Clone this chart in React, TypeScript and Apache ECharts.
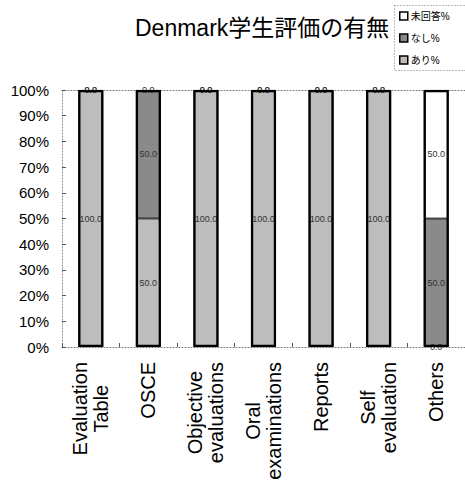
import React, { useEffect, useRef } from "react";
import * as echarts from "echarts";

const categories = [
  "Evaluation\nTable",
  "OSCE",
  "Objective\nevaluations",
  "Oral\nexaminations",
  "Reports",
  "Self\nevaluation",
  "Others",
];
const ariValues = [100, 50, 100, 100, 100, 100, 0];
const nashiValues = [0, 50, 0, 0, 0, 0, 50];
const mikaitoValues = [0, 0, 0, 0, 0, 0, 50];
const yTicks = [0, 10, 20, 30, 40, 50, 60, 70, 80, 90, 100];

const FONT = "'Liberation Sans', 'Noto Sans CJK JP', sans-serif";

export default function App() {
  const ref = useRef<HTMLDivElement>(null);
  useEffect(() => {
    if (!ref.current) return;
    const chart = echarts.init(ref.current, null, { renderer: "svg" });
    const labelCfg = {
      show: true,
      position: "inside" as const,
      fontSize: 9,
      color: "#333",
      fontFamily: FONT,
      formatter: (p: any) => Number(p.value).toFixed(1),
    };
    const mkSeries = (name: string, data: number[], color: string) => ({
      name,
      type: "bar",
      stack: "s",
      data: data.map((v) => (v === 0 ? { value: v, itemStyle: { borderWidth: 0 } } : v)),
      barWidth: 25,
      barGap: "-100%",
      itemStyle: { color, borderColor: "#000", borderWidth: 0.8 },
      label: labelCfg,
    });
    const totals = ariValues.map((v, i) => v + nashiValues[i] + mikaitoValues[i]);
    chart.setOption({
      animation: false,
      textStyle: { fontFamily: FONT },
      title: {
        text: "Denmark学生評価の有無",
        left: 130,
        top: 11,
        textStyle: { fontSize: 23, fontWeight: "normal", color: "#000", fontFamily: FONT },
      },
      legend: {
        orient: "vertical",
        left: 394,
        top: 6,
        itemGap: 12,
        itemWidth: 8,
        itemHeight: 8,
        icon: "rect",
        data: ["未回答%", "なし%", "あり%"],
        textStyle: { fontSize: 10, color: "#000", fontFamily: FONT, padding: [0, 0, 0, -2] },
        itemStyle: { borderColor: "#000", borderWidth: 1.5 },
      },
      graphic: [
        {
          type: "rect",
          left: 392,
          top: 3,
          shape: { width: 72, height: 65 },
          style: { fill: "none", stroke: "#777", lineWidth: 1, lineDash: [1, 2] },
        },
      ],
      grid: { left: 62, top: 90, width: 407, height: 257 },
      xAxis: [
        {
          type: "category",
          data: categories,
          axisLine: { show: true, lineStyle: { color: "#777", type: [1, 2], width: 1 } },
          axisTick: { show: true, inside: true, length: 4, lineStyle: { color: "#555" } },
          axisLabel: {
            rotate: 90,
            fontSize: 20,
            color: "#000",
            margin: 15,
            lineHeight: 21,
            fontFamily: FONT,
            formatter: (v: string) =>
              v
                .split("\n")
                .map((s) => `{a|${s}}`)
                .join("\n"),
            rich: { a: { align: "center", fontSize: 20, lineHeight: 21, color: "#000", fontFamily: FONT } },
          },
        },
        {
          type: "category",
          position: "top",
          data: categories,
          axisLine: { show: true, lineStyle: { color: "#777", type: [1, 2], width: 1 } },
          axisTick: { show: false },
          axisLabel: { show: false },
        },
      ],
      yAxis: {
        type: "value",
        min: 0,
        max: 100,
        interval: 10,
        axisLine: { show: true, lineStyle: { color: "#888", type: [1, 2], width: 1 } },
        axisTick: { show: true, inside: true, length: 4, lineStyle: { color: "#555" } },
        splitLine: { show: false },
        axisLabel: {
          fontSize: 15,
          color: "#000",
          margin: 13,
          fontFamily: FONT,
          formatter: (v: number) => (yTicks.includes(v) ? `${v}%` : ""),
        },
      },
      series: [
        mkSeries("あり%", ariValues, "#bdbdbd"),
        mkSeries("なし%", nashiValues, "#8a8a8a"),
        mkSeries("未回答%", mikaitoValues, "#ffffff"),
        {
          name: "outline",
          type: "bar",
          data: totals,
          barWidth: 25,
          barGap: "-100%",
          silent: true,
          z: 3,
          itemStyle: { color: "rgba(0,0,0,0)", borderColor: "#000", borderWidth: 2.2 },
          label: { show: false },
        },
      ],
    });
    return () => chart.dispose();
  }, []);
  return <div ref={ref} style={{ width: 465, height: 487, position: "absolute", left: 0, top: 0 }} />;
}
